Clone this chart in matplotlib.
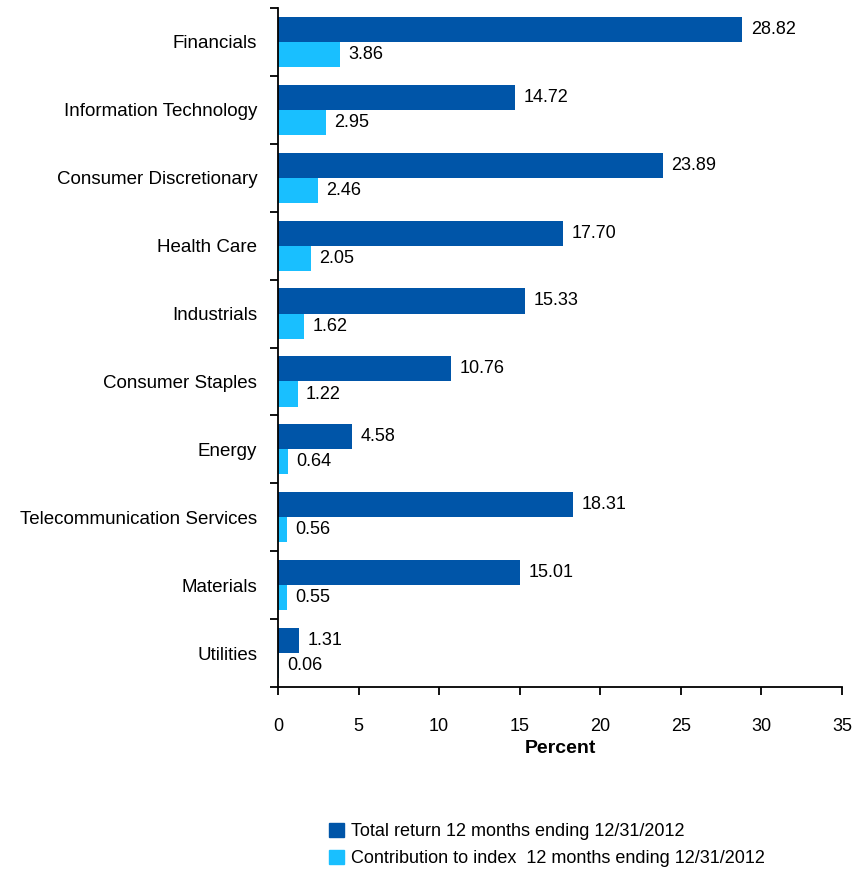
import numpy as np
import matplotlib.pyplot as plt
from matplotlib.patches import Patch

plt.rcParams['font.family'] = ['Liberation Sans Narrow', 'Liberation Sans', 'DejaVu Sans']

sectors = ["Financials", "Information Technology", "Consumer Discretionary",
           "Health Care", "Industrials", "Consumer Staples", "Energy",
           "Telecommunication Services", "Materials", "Utilities"]
total_return = [28.82, 14.72, 23.89, 17.70, 15.33, 10.76, 4.58, 18.31, 15.01, 1.31]
contribution = [3.86, 2.95, 2.46, 2.05, 1.62, 1.22, 0.64, 0.56, 0.55, 0.06]

dark = "#0055A8"
light = "#19BFFF"

fig = plt.figure(figsize=(8.68, 8.77), dpi=100)
ax = fig.add_axes([0.3203, 0.2166, 0.6497, 0.7743])

n = len(sectors)
pos = np.arange(n)[::-1]  # first sector at the top
h = 0.37
ax.barh(pos + h / 2, total_return, height=h, color=dark)
ax.barh(pos - h / 2, contribution, height=h, color=light)

for p, v in zip(pos, total_return):
    ax.annotate(f"{v:.2f}", (v, p + h / 2), xytext=(6, 0), textcoords="offset points",
                va="center", ha="left", fontsize=13)
for p, v in zip(pos, contribution):
    ax.annotate(f"{v:.2f}", (v, p - h / 2), xytext=(6, 0), textcoords="offset points",
                va="center", ha="left", fontsize=13)

ax.set_xlim(0, 35)
ax.set_ylim(-0.5, n - 0.5)
ax.set_xticks(np.arange(0, 36, 5))
ax.tick_params(axis="x", direction="out", length=6, width=1.3, pad=16, labelsize=13)

# boundary ticks between sectors, labels at the centres
ax.set_yticks(np.arange(n + 1) - 0.5)
ax.set_yticklabels([])
ax.tick_params(axis="y", which="major", direction="out", length=6, width=1.3)
ax.set_yticks(pos, minor=True)
ax.set_yticklabels(sectors, minor=True)
ax.tick_params(axis="y", which="minor", length=0, pad=15, labelsize=13.5)

for s in ["top", "right"]:
    ax.spines[s].set_visible(False)
for s in ["left", "bottom"]:
    ax.spines[s].set_linewidth(1.3)

ax.set_xlabel("Percent", fontsize=14, fontweight="bold", labelpad=4,
              family=["Liberation Sans", "DejaVu Sans"])

handles = [Patch(color=dark), Patch(color=light)]
labels = ["Total return 12 months ending 12/31/2012",
          "Contribution to index  12 months ending 12/31/2012"]
fig.legend(handles, labels, loc="upper left", bbox_to_anchor=(0.371, 0.07),
           frameon=False, fontsize=13, handlelength=0.8, handleheight=0.8,
           handletextpad=0.4, labelspacing=0.55, borderaxespad=0)

fig.savefig("out.png", dpi=100)
